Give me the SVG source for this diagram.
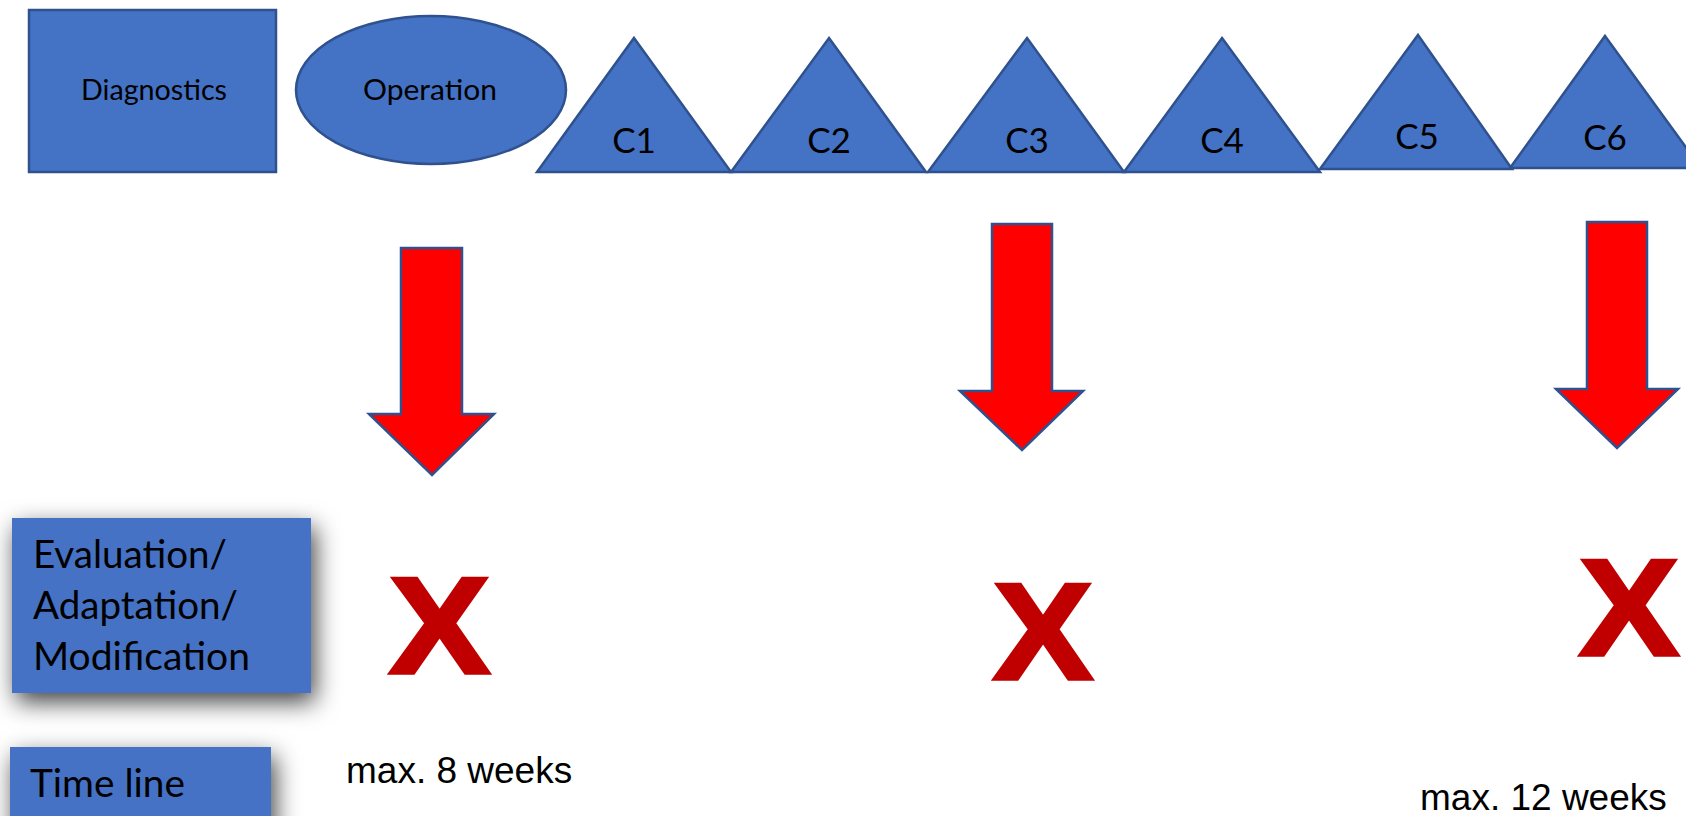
<svg xmlns="http://www.w3.org/2000/svg" width="1686" height="816" viewBox="0 0 1686 816">
<style>
.shape{fill:#4472C4;stroke:#2F528F;stroke-width:2.5}
.lbl{font-family:Lato,"Open Sans","DejaVu Sans",sans-serif;fill:#000}
.arrow{fill:#FF0000;stroke:#2F528F;stroke-width:2.5;stroke-linejoin:miter}
.x{font-family:"Liberation Sans",Arial,sans-serif;font-weight:bold;font-size:138px;fill:#C00000;stroke:#C00000;stroke-width:3.5;stroke-linejoin:miter}
.note{font-family:"Liberation Sans",Arial,sans-serif;font-size:37px;fill:#000}
.box{fill:#4472C4}
</style>
<defs>
<filter id="sh" x="-30%" y="-40%" width="160%" height="190%">
<feDropShadow dx="4" dy="9" stdDeviation="12" flood-color="#000" flood-opacity="0.75"/>
</filter>
</defs>
<rect width="1686" height="816" fill="#fff"/>
<g id="diagnostics">
<rect class="shape" x="29" y="10" width="247" height="162"/>
<text class="lbl" x="154" y="100" font-size="28" text-anchor="middle" textLength="146" lengthAdjust="spacingAndGlyphs">Diagnostics</text>
</g>
<g id="operation">
<ellipse class="shape" cx="431" cy="90" rx="135" ry="74"/>
<text class="lbl" x="430" y="100" font-size="28" text-anchor="middle" textLength="134" lengthAdjust="spacingAndGlyphs">Operation</text>
</g>
<g id="c1">
<polygon class="shape" points="634,38 731,172 537,172"/>
<text class="lbl" x="634" y="153" font-size="35" text-anchor="middle">C1</text>
</g>
<g id="c2">
<polygon class="shape" points="829,38 926,172 731,172"/>
<text class="lbl" x="829" y="153" font-size="35" text-anchor="middle">C2</text>
</g>
<g id="c3">
<polygon class="shape" points="1027,38 1124,172 928,172"/>
<text class="lbl" x="1027" y="153" font-size="35" text-anchor="middle">C3</text>
</g>
<g id="c4">
<polygon class="shape" points="1222,38 1320,172 1124,172"/>
<text class="lbl" x="1222" y="153" font-size="35" text-anchor="middle">C4</text>
</g>
<g id="c5">
<polygon class="shape" points="1418,35 1512,169 1320,169"/>
<text class="lbl" x="1417" y="149" font-size="35" text-anchor="middle">C5</text>
</g>
<g id="c6">
<polygon class="shape" points="1605,36 1701,168 1510,168"/>
<text class="lbl" x="1605" y="150" font-size="35" text-anchor="middle">C6</text>
</g>
<g id="connectors">
<polygon class="arrow" points="401,248 462,248 462,414 494,414 432,475 369,414 401,414"/>
<polygon class="arrow" points="992,224 1052,224 1052,391 1083,391 1022,450 960,391 992,391"/>
<polygon class="arrow" points="1587,222 1647,222 1647,389 1678,389 1617,448 1556,389 1587,389"/>
</g>
<g id="evaluation">
<rect class="box" x="12" y="518" width="299" height="175" filter="url(#sh)"/>
<text class="lbl" x="33" y="568" font-size="38" textLength="194" lengthAdjust="spacingAndGlyphs">Evaluation/</text>
<text class="lbl" x="33" y="619" font-size="38" textLength="205" lengthAdjust="spacingAndGlyphs">Adaptation/</text>
<text class="lbl" x="33" y="670" font-size="38" textLength="217" lengthAdjust="spacingAndGlyphs">Modification</text>
</g>
<g id="timeline">
<rect class="box" x="10" y="747" width="261" height="90" filter="url(#sh)"/>
<text class="lbl" x="30" y="797" font-size="39" textLength="155" lengthAdjust="spacingAndGlyphs">Time line</text>
</g>
<g id="marks">
<text class="x" x="389" y="673" textLength="101" lengthAdjust="spacingAndGlyphs">X</text>
<text class="x" x="993" y="679" textLength="100" lengthAdjust="spacingAndGlyphs">X</text>
<text class="x" x="1579" y="655" textLength="100" lengthAdjust="spacingAndGlyphs">X</text>
</g>
<g id="notes">
<text class="note" x="346" y="783">max. 8 weeks</text>
<text class="note" x="1420" y="810">max. 12 weeks</text>
</g>
</svg>
